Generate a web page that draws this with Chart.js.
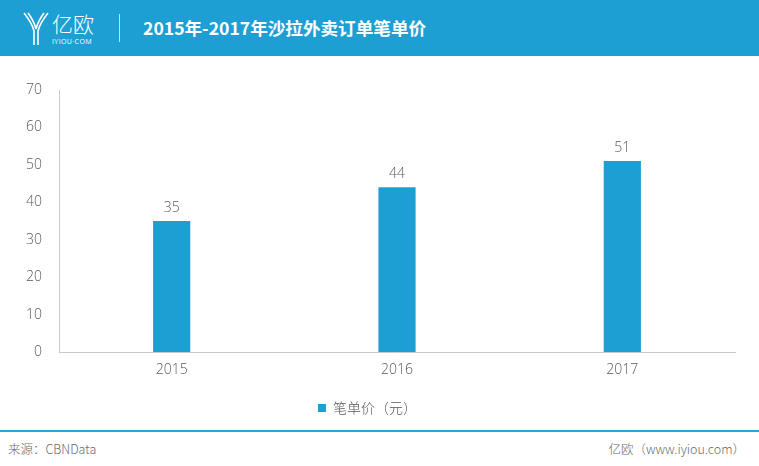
<!DOCTYPE html>
<html>
<head>
<meta charset="utf-8">
<script src="https://cdn.jsdelivr.net/npm/chart.js@4"></script>
<style>
  body { margin: 0; width: 759px; height: 466px; background: #fff; position: relative; overflow: hidden;
         font-family: "Open Sans", "Noto Sans CJK SC", sans-serif; }
  #header { position: absolute; left: 0; top: 0; width: 759px; height: 56px; background: #1e9fd4; }
  #logoText { position: absolute; left: 52px; top: 11px; color: #fff; font-size: 21px; font-family: "Noto Sans CJK SC"; font-weight: 300; line-height: 24px; }
  #logoSub { position: absolute; left: 52px; top: 37px; color: #fff; font-size: 7px; letter-spacing: 0.4px; }
  #divider { position: absolute; left: 119px; top: 14px; width: 1px; height: 28px; background: #bfe3f3; }
  #title { position: absolute; left: 143px; top: 16px; color: #fff; font-size: 17.6px; font-weight: bold; font-family: "Noto Sans CJK SC"; line-height: 24px; }
  #wrap { position: absolute; left: 0; top: 60px; width: 759px; height: 365px; }
  #footLine { position: absolute; left: 0; top: 430px; width: 759px; height: 2px; background: #2aa6da; }
  .foot { position: absolute; top: 440px; font-size: 12.5px; color: #6a6a6a; font-family: "Noto Sans CJK SC"; font-weight: 300; line-height: 18px; }
</style>
</head>
<body>
<div id="header">
  <svg style="position:absolute;left:22px;top:11px" width="28" height="36" viewBox="0 0 28 36">
    <g fill="none" stroke="#fff" stroke-width="1.6">
      <path d="M2 2 Q10 12 12 20 L12 34"/>
      <path d="M6 2 Q12 10 14 18"/>
      <path d="M26 2 Q18 12 16 20 L16 34"/>
      <path d="M22 2 Q16 10 14 18"/>
    </g>
  </svg>
  <div id="logoText">亿欧</div>
  <div id="logoSub">IYIOU·COM</div>
  <div id="divider"></div>
  <div id="title">2015年-2017年沙拉外卖订单笔单价</div>
</div>
<div id="wrap"><canvas id="chart"></canvas></div>
<div id="footLine"></div>
<div class="foot" style="left:8px">来源：CBNData</div>
<div class="foot" style="right:14px">亿欧（www.iyiou.com）</div>

<script>
const years = ['2015', '2016', '2017'];
const prices = [35, 44, 51];
const seriesName = '笔单价（元）';
const yTicks = [0, 10, 20, 30, 40, 50, 60, 70];

const barColor = '#1e9fd4';
const textColor = '#595959';

// numbers above each bar
const valueLabels = {
    id: 'valueLabels',
    afterDatasetsDraw(chart) {
        const ctx = chart.ctx;
        const meta = chart.getDatasetMeta(0);
        ctx.save();
        ctx.font = '300 14px "Open Sans"';
        ctx.fillStyle = textColor;
        ctx.textAlign = 'center';
        ctx.textBaseline = 'bottom';
        meta.data.forEach((bar, i) => {
            ctx.fillText(prices[i], bar.x, bar.y - 6);
        });
        ctx.restore();
    }
};

new Chart(document.getElementById('chart'), {
    type: 'bar',
    data: {
        labels: years,
        datasets: [{
            label: seriesName,
            data: prices,
            backgroundColor: barColor,
            categoryPercentage: 1,
            barPercentage: 0.165
        }]
    },
    options: {
        responsive: true,
        maintainAspectRatio: false,
        animation: false,
        layout: { padding: { top: 30, right: 24, bottom: 0, left: 0 } },
        plugins: {
            legend: {
                position: 'bottom',
                labels: {
                    boxWidth: 8,
                    boxHeight: 8,
                    color: textColor,
                    font: { size: 14, family: '"Noto Sans CJK SC"', weight: 300 },
                    padding: 18
                }
            },
            tooltip: { enabled: false }
        },
        scales: {
            x: {
                grid: { display: false, drawTicks: false },
                border: { color: '#c8c8c8' },
                ticks: { color: textColor, font: { size: 14, family: '"Open Sans"', weight: 300 }, padding: 10 },
                afterFit(scale) { scale.height = 31; }
            },
            y: {
                min: 0,
                max: 70,
                afterBuildTicks(scale) { scale.ticks = yTicks.map(v => ({ value: v })); },
                grid: { display: false, drawTicks: false },
                border: { color: '#c8c8c8' },
                ticks: { color: textColor, font: { size: 14, family: '"Open Sans"', weight: 300 }, padding: 17 },
                afterFit(scale) { scale.width = 59; }
            }
        }
    },
    plugins: [valueLabels]
});
</script>
</body>
</html>
